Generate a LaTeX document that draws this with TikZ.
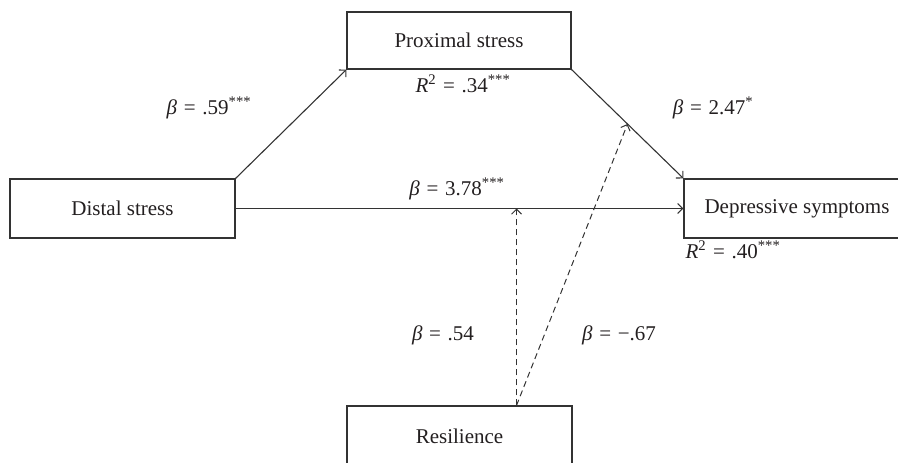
\documentclass[tikz,border=0pt]{standalone}
\usepackage{fontspec}
\setmainfont{Liberation Serif}
\usetikzlibrary{arrows.meta,calc}
\definecolor{ink}{HTML}{231F20}
\definecolor{linec}{HTML}{333333}
\newcommand{\bt}{{\itshape β}}
\newcommand{\eqs}{\hspace{0.32em}=\hspace{0.32em}}
\newcommand{\sig}[1]{\textsuperscript{#1}}
\tikzset{
  box/.style={draw=linec, line width=1.1pt, fill=white, text=ink, font=\fontsize{21}{24}\selectfont, inner sep=0pt},
  lbl/.style={text=ink, font=\fontsize{21}{24}\selectfont, inner sep=0pt},
  path/.style={draw=linec, line width=1.1pt, -{Straight Barb[length=5pt,width=10pt]}},
  dpath/.style={path, line width=1pt, dash pattern=on 6pt off 4pt}
}
\begin{document}
\begin{tikzpicture}[x=1pt,y=-1pt]
\useasboundingbox (0,0) rectangle (898,463);
\clip (0,0) rectangle (898,463);
\node[box, minimum width=224pt, minimum height=57pt] (prox) at (459,40.5) {Proximal stress};
\node[box, minimum width=225pt, minimum height=59pt] (dist) at (122.5,208.5) {Distal stress};
\node[box, minimum width=226pt, minimum height=59pt] (dep) at (797,208.5) {Depressive symptoms};
\node[box, minimum width=225pt, minimum height=60pt] (res) at (459.5,436) {Resilience};
\coordinate (rt) at ([xshift=57pt]res.north);
\coordinate (m1) at (rt |- dist.east);
\coordinate (m2) at ($(prox.south east)!0.5!(dep.north west)$);
\draw[path] (dist.north east) -- (prox.south west);
\draw[path] (prox.south east) -- (dep.north west);
\draw[path] (dist.east) -- (dep.west);
\draw[dpath] (rt) -- (m1);
\draw[dpath] (rt) -- (m2);
\node[lbl] (l1) at (209,108) {\bt\eqs.59\sig{***}};
\node[lbl] (l2) at (463,84) {{\itshape R}\textsuperscript{2}\eqs.34\sig{***}};
\node[lbl] (l3) at (713,108) {\bt\eqs 2.47\sig{*}};
\node[lbl] (l4) at (457,189) {\bt\eqs 3.78\sig{***}};
\node[lbl] (l5) at (733,250) {{\itshape R}\textsuperscript{2}\eqs.40\sig{***}};
\node[lbl] (l6) at (443,335) {\bt\eqs.54};
\node[lbl] (l7) at (619,335) {\bt\eqs −.67};
\end{tikzpicture}
\end{document}
